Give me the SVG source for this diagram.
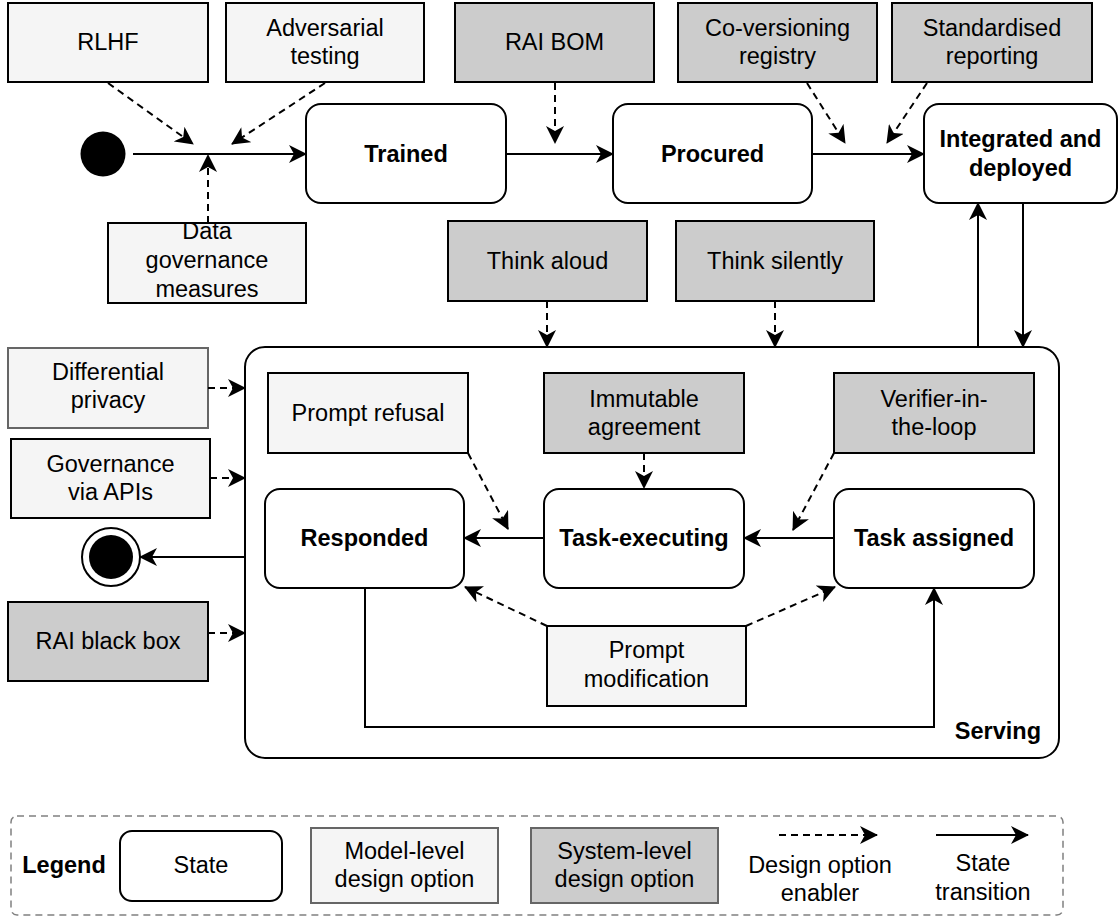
<svg xmlns="http://www.w3.org/2000/svg" width="1119" height="917" viewBox="0 0 1119 917">
<style>
text{font-family:"Liberation Sans",Arial,Helvetica,sans-serif;font-size:23.5px;fill:#000;text-anchor:middle}
.b{font-weight:bold}
.st{fill:#fff;stroke:#000;stroke-width:2}
.m{fill:#f5f5f5;stroke:#000;stroke-width:2}
.mg{fill:#f5f5f5;stroke:#666;stroke-width:2}
.s{fill:#cccccc;stroke:#000;stroke-width:2}
.sg{fill:#cccccc;stroke:#666;stroke-width:2}
.t{fill:none;stroke:#000;stroke-width:2;marker-end:url(#ah)}
.e{fill:none;stroke:#000;stroke-width:2;stroke-dasharray:7 5;marker-end:url(#ah)}
</style>
<defs>
<marker id="ah" markerUnits="userSpaceOnUse" viewBox="0 0 18 18" markerWidth="18" markerHeight="18" refX="17" refY="9" orient="auto">
<path d="M0,0 L18,9 L0,18 L5,9 Z" fill="#000"/>
</marker>
</defs>

<g id="serving">
<rect class="st" x="245" y="347" width="814" height="411" rx="20"/>
<text class="b" x="1041" y="739" style="text-anchor:end">Serving</text>
</g>

<g id="start"><circle cx="103" cy="154" r="22.5" fill="#000"/></g>
<g id="end"><circle cx="111" cy="557" r="29" fill="#fff" stroke="#000" stroke-width="2"/><circle cx="111" cy="557" r="22" fill="#000"/></g>

<g id="rlhf"><rect class="m" x="8" y="3" width="200" height="79"/><text x="108" y="50">RLHF</text></g>
<g id="adversarial"><rect class="m" x="226" y="3" width="198" height="79"/><text x="325" y="36">Adversarial</text><text x="325" y="64">testing</text></g>
<g id="raibom"><rect class="s" x="455" y="3" width="199" height="79"/><text x="554.5" y="50">RAI BOM</text></g>
<g id="coversioning"><rect class="s" x="678" y="3" width="199" height="79"/><text x="777.5" y="36">Co-versioning</text><text x="777.5" y="64">registry</text></g>
<g id="standardised"><rect class="s" x="892" y="3" width="200" height="79"/><text x="992" y="36">Standardised</text><text x="992" y="64">reporting</text></g>

<g id="trained"><rect class="st" x="306" y="104" width="200" height="99" rx="15"/><text class="b" x="406" y="162">Trained</text></g>
<g id="procured"><rect class="st" x="613" y="104" width="199" height="99" rx="15"/><text class="b" x="712.5" y="162">Procured</text></g>
<g id="integrated"><rect class="st" x="924" y="104" width="193" height="99" rx="15"/><text class="b" x="1020.5" y="147">Integrated and</text><text class="b" x="1020.5" y="176">deployed</text></g>

<g id="datagov"><rect class="m" x="108" y="223" width="198" height="80"/><text x="207" y="239">Data</text><text x="207" y="268">governance</text><text x="207" y="297">measures</text></g>
<g id="thinkaloud"><rect class="s" x="448" y="221" width="199" height="80"/><text x="547.5" y="269">Think aloud</text></g>
<g id="thinksilently"><rect class="s" x="676" y="221" width="198" height="80"/><text x="775" y="269">Think silently</text></g>

<g id="diffprivacy"><rect class="mg" x="8" y="348" width="200" height="80"/><text x="108" y="380">Differential</text><text x="108" y="408">privacy</text></g>
<g id="govapis"><rect class="m" x="11" y="439" width="199" height="79"/><text x="110.5" y="472">Governance</text><text x="110.5" y="500">via APIs</text></g>
<g id="raiblackbox"><rect class="s" x="8" y="602" width="200" height="79"/><text x="108" y="649">RAI black box</text></g>

<g id="promptrefusal"><rect class="m" x="268" y="373" width="200" height="80"/><text x="368" y="421">Prompt refusal</text></g>
<g id="immutable"><rect class="s" x="544" y="373" width="200" height="80"/><text x="644" y="407">Immutable</text><text x="644" y="435">agreement</text></g>
<g id="verifier"><rect class="s" x="834" y="373" width="200" height="80"/><text x="934" y="407">Verifier-in-</text><text x="934" y="435">the-loop</text></g>

<g id="responded"><rect class="st" x="265" y="489" width="199" height="99" rx="15"/><text class="b" x="364.5" y="546">Responded</text></g>
<g id="taskexecuting"><rect class="st" x="544" y="489" width="200" height="99" rx="15"/><text class="b" x="644" y="546">Task-executing</text></g>
<g id="taskassigned"><rect class="st" x="834" y="489" width="200" height="99" rx="15"/><text class="b" x="934" y="546">Task assigned</text></g>

<g id="promptmod"><rect class="m" x="547" y="626" width="199" height="80"/><text x="646.5" y="658">Prompt</text><text x="646.5" y="687">modification</text></g>

<g id="connectors">
<path class="t" d="M133,154 H306"/>
<path class="t" d="M506,154 H613"/>
<path class="t" d="M812,154 H924"/>
<path class="t" d="M978,347 V203"/>
<path class="t" d="M1023,203 V347"/>
<path class="t" d="M245,557 H140"/>
<path class="t" d="M544,538 H464"/>
<path class="t" d="M834,538 H744"/>
<path class="t" d="M365,588 V727 H934 V588"/>
<path class="e" d="M108,83 L193,144"/>
<path class="e" d="M325,83 L232,144"/>
<path class="e" d="M208,223 V155"/>
<path class="e" d="M555,83 V143"/>
<path class="e" d="M807,83 L845,143"/>
<path class="e" d="M927,83 L887,143"/>
<path class="e" d="M547,301 V347"/>
<path class="e" d="M775,301 V347"/>
<path class="e" d="M208,388 H245"/>
<path class="e" d="M210,478 H245"/>
<path class="e" d="M208,633 H245"/>
<path class="e" d="M468,453 L508,529"/>
<path class="e" d="M644,453 V488"/>
<path class="e" d="M834,453 L793,530"/>
<path class="e" d="M547,626 L465,587"/>
<path class="e" d="M746,626 L835,587"/>
</g>

<g id="legend">
<rect x="11" y="816" width="1052" height="99" rx="6" fill="none" stroke="#808080" stroke-width="1.5" stroke-dasharray="7 5"/>
<text class="b" x="64" y="873">Legend</text>
<rect class="st" x="120" y="831" width="162" height="70" rx="12"/>
<text x="201" y="873">State</text>
<rect class="mg" x="311" y="828" width="187" height="75"/>
<text x="404.5" y="859">Model-level</text><text x="404.5" y="887">design option</text>
<rect class="sg" x="531" y="828" width="187" height="75"/>
<text x="624.5" y="859">System-level</text><text x="624.5" y="887">design option</text>
<path class="e" d="M779,835 H877"/>
<text x="820" y="873">Design option</text><text x="820" y="901">enabler</text>
<path class="t" d="M936,835 H1028"/>
<text x="983" y="871">State</text><text x="983" y="900">transition</text>
</g>
</svg>
